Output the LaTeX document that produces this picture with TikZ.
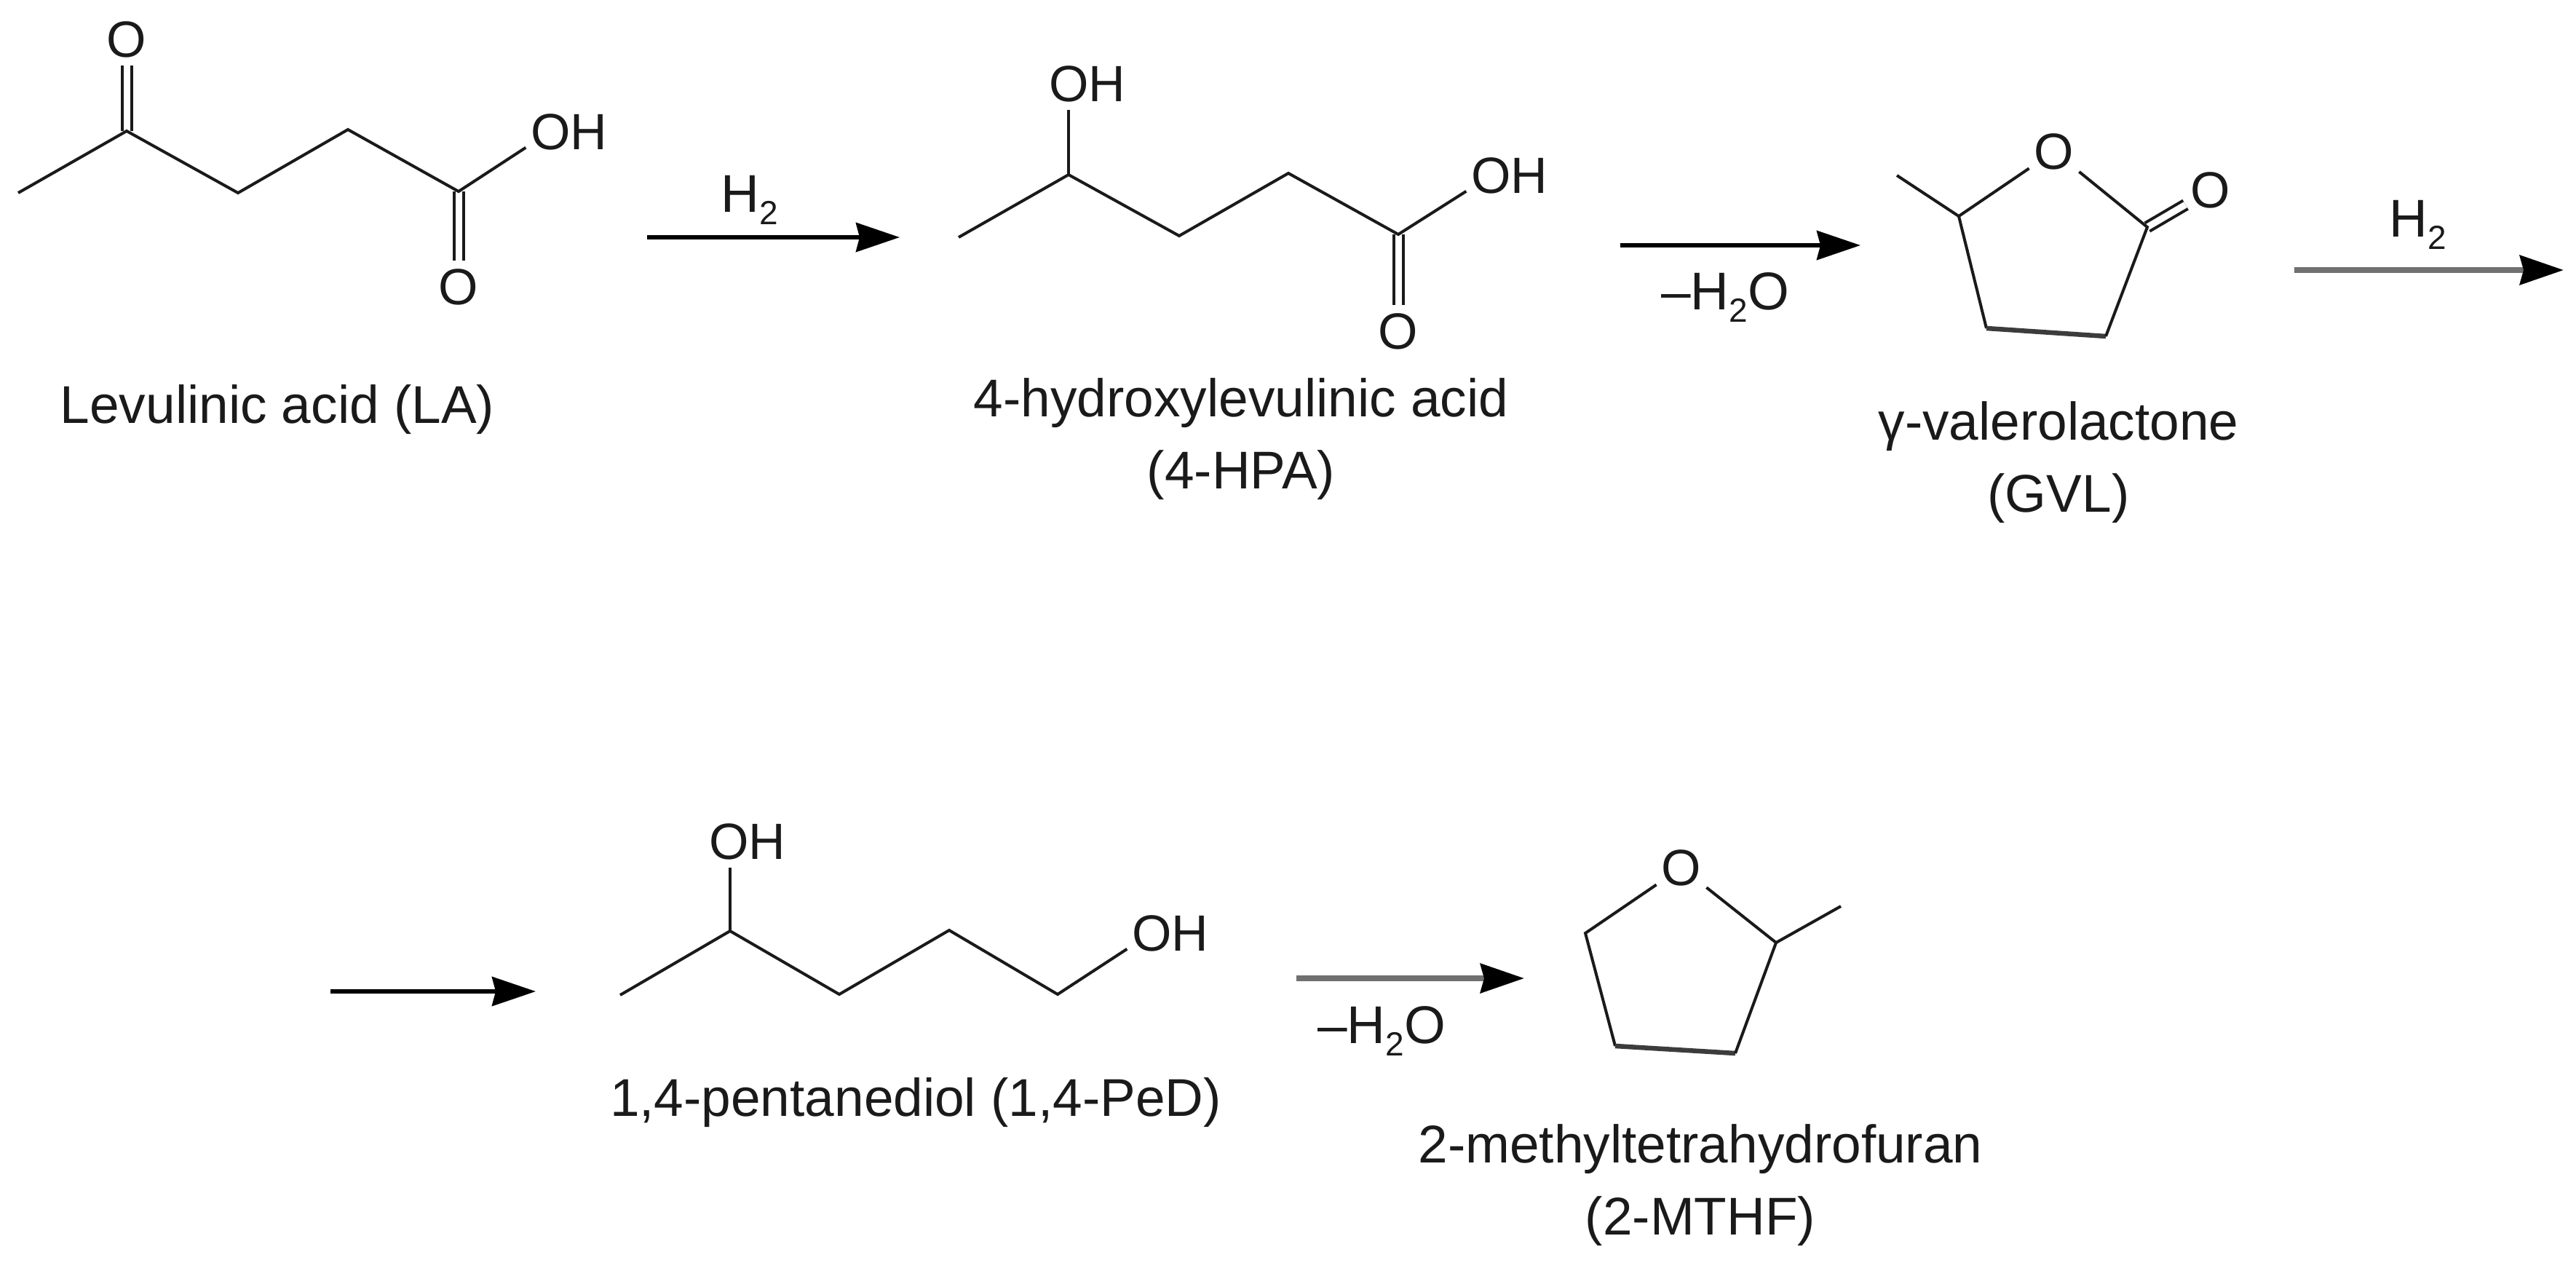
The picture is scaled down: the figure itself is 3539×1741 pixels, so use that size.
\documentclass[tikz,border=0pt]{standalone}
\usepackage{fontspec}
\setmainfont{Liberation Sans}
\usetikzlibrary{arrows.meta}
\newcommand{\subtwo}{\raisebox{-.24em}{\fontsize{46}{46}\selectfont 2}}
\definecolor{ink}{HTML}{1A1A1A}
\definecolor{greyshaft}{HTML}{707070}
\tikzset{
  atom/.style={font=\fontsize{70}{70}\selectfont,inner xsep=7pt,inner ysep=11pt,text=ink},
  caption/.style={font=\fontsize{73}{99}\selectfont,inner sep=0pt,align=center,text=ink},
  rlabel/.style={font=\fontsize{73}{73}\selectfont,inner sep=0pt,anchor=base,text=ink},
  bond/.style={draw=ink,line width=4pt,line join=miter},
  dbond/.style={draw=ink,line width=4pt,double=white,double distance=9pt},
  lowbond/.style={draw=ink!85,line width=6.5pt},
  rarrow/.style={draw=black,line width=5.5pt,-{Stealth[length=60pt,width=40pt,inset=5pt,color=black,fill=black]}},
  greyarrow/.style={rarrow,draw=greyshaft,line width=8pt}
}
\begin{document}
\begin{tikzpicture}[x=1pt,y=-1pt]
\useasboundingbox[fill=white] (0,0) rectangle (3539,1741);

% ---- Levulinic acid
\coordinate (a1) at (25,265);
\coordinate (a2) at (174,180);
\coordinate (a3) at (327,265);
\coordinate (a4) at (478,178);
\coordinate (a5) at (630,263);
\node[atom] (aO1) at (174,54) {O};
\node[atom] (aO2) at (630,394) {O};
\node[atom] (aOH) at (782,181) {OH};
\draw[dbond] (a2) -- (aO1);
\draw[dbond] (a5) -- (aO2);
\draw[bond] (a1) -- (a2) -- (a3) -- (a4) -- (a5) -- (aOH.200);
\node[caption,anchor=base] (aName) at (381,581) {Levulinic acid (LA)};

% ---- arrow 1
\coordinate (s1) at (889,326);
\coordinate (e1) at (1236,326);
\draw[rarrow] (s1) -- (e1);
\node[rlabel] (l1) at (1030,291) {H\subtwo};

% ---- 4-HPA
\coordinate (b1) at (1317,326);
\coordinate (b2) at (1468,240);
\coordinate (b3) at (1620,324);
\coordinate (b4) at (1770,238);
\coordinate (b5) at (1921,322);
\node[atom] (bOH1) at (1494,115) {OH};
\node[atom] (bOH2) at (2074,241) {OH};
\node[atom] (bO) at (1921,455) {O};
\draw[dbond] (b5) -- (bO);
\draw[bond] (b1) -- (b2) -- (b3) -- (b4) -- (b5) -- (bOH2.200);
\draw[bond] (b2) -- (b2 |- bOH1.south);
\node[caption] (bName) at (1705,603) {4-hydroxylevulinic acid\\(4-HPA)};

% ---- arrow 2
\coordinate (s2) at (2226,337);
\coordinate (e2) at (2556,337);
\draw[rarrow] (s2) -- (e2);
\node[rlabel] (l2) at (2370,425) {--H\subtwo O};

% ---- GVL
\coordinate (c1) at (2606,241);
\coordinate (c2) at (2691,297);
\coordinate (c3) at (2729,451);
\coordinate (c4) at (2893,462);
\coordinate (c5) at (2950,312);
\node[atom] (cO) at (2822,208) {O};
\node[atom] (cO2) at (3037,261) {O};
\draw[dbond] (c5) -- (cO2);
\draw[bond] (c1) -- (c2) -- (cO);
\draw[bond] (c2) -- (c3);
\draw[lowbond] (c3) -- (c4);
\draw[bond] (c4) -- (c5) -- (cO);
\node[caption] (cName) at (2828,635) {γ-valerolactone\\(GVL)};

% ---- arrow 3
\coordinate (s3) at (3152,371);
\coordinate (e3) at (3522,371);
\draw[greyarrow] (s3) -- (e3);
\node[rlabel] (l3) at (3322,325) {H\subtwo};

% ---- arrow 4
\coordinate (s4) at (454,1362);
\coordinate (e4) at (736,1362);
\draw[rarrow] (s4) -- (e4);

% ---- 1,4-PeD
\coordinate (d1) at (852,1367);
\coordinate (d2) at (1003,1279);
\coordinate (d3) at (1153,1366);
\coordinate (d4) at (1304,1278);
\coordinate (d5) at (1453,1366);
\node[atom] (dOH1) at (1027,1156) {OH};
\node[atom] (dOH2) at (1608,1282) {OH};
\draw[bond] (d1) -- (d2) -- (d3) -- (d4) -- (d5) -- (dOH2.200);
\draw[bond] (d2) -- (d2 |- dOH1.south);
\node[caption,anchor=base] (dName) at (1258,1533) {1,4-pentanediol (1,4-PeD)};

% ---- arrow 5
\coordinate (s5) at (1781,1344);
\coordinate (e5) at (2094,1344);
\draw[greyarrow] (s5) -- (e5);
\node[rlabel] (l5) at (1898,1433) {--H\subtwo O};

% ---- 2-MTHF
\coordinate (f1) at (2178,1282);
\coordinate (f2) at (2219,1437);
\coordinate (f3) at (2384,1447);
\coordinate (f4) at (2440,1295);
\coordinate (f5) at (2529,1245);
\node[atom] (fO) at (2310,1192) {O};
\draw[bond] (fO) -- (f1) -- (f2);
\draw[lowbond] (f2) -- (f3);
\draw[bond] (f3) -- (f4) -- (fO);
\draw[bond] (f4) -- (f5);
\node[caption] (fName) at (2336,1628) {2-methyltetrahydrofuran\\(2-MTHF)};
\end{tikzpicture}
\end{document}
